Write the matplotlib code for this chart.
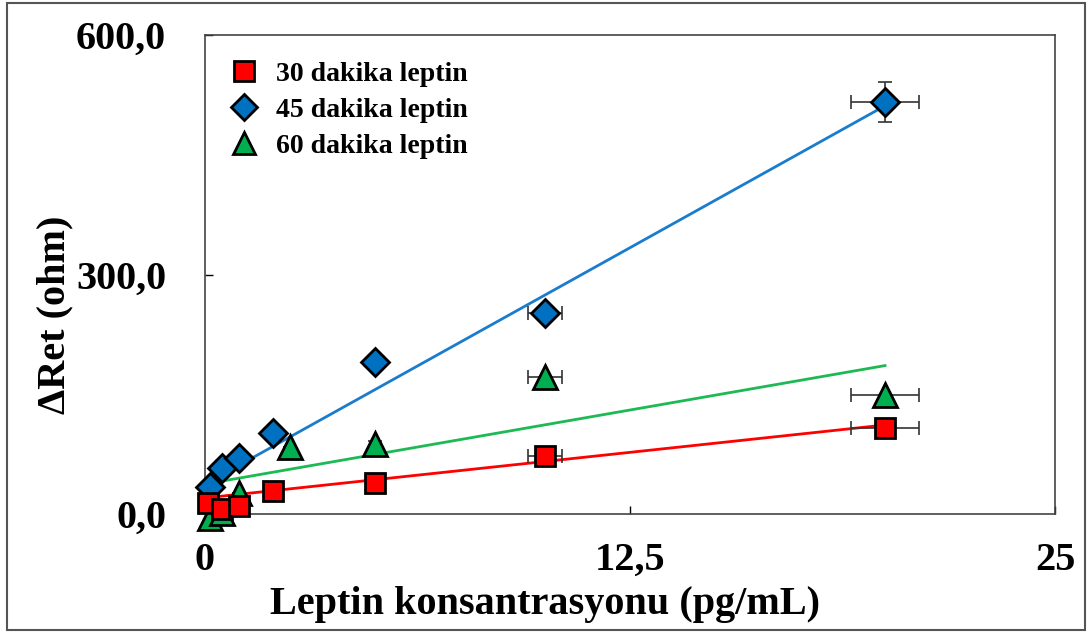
import matplotlib.pyplot as plt
import matplotlib.patches as mpatches
import numpy as np

# concentrations (pg/mL) and delta Ret (ohm)
x30 = [0.1, 0.5, 1.0, 2.0, 5.0, 10.0, 20.0]
y30 = [14, 6, 10, 29, 39, 73, 108]
x45 = [0.15, 0.5, 1.0, 2.0, 5.0, 10.0, 20.0]
y45 = [34, 58, 70, 101, 190, 252, 516]
x60 = [0.15, 0.5, 1.0, 2.5, 5.0, 10.0, 20.0]
y60 = [-5, 1, 26, 84, 88, 172, 149]

# horizontal / vertical error bars (only visible ones)
xerr30 = [0, 0, 0, 0, 0, 0.5, 1.0]
xerr45 = [0, 0, 0, 0, 0, 0.5, 1.0]
yerr45 = [0, 0, 0, 0, 0, 0, 25]
xerr60 = [0, 0, 0, 0, 0, 0.5, 1.0]
yerr60 = [0, 0, 0, 0, 4, 0, 0]

# trend lines: slope, intercept, x range
fit30 = (4.57, 20.1)
fit45 = (23.7, 37.3)
fit60 = (7.42, 37.5)
fit_x = [0.2, 20.0]

labels = ["30 dakika leptin", "45 dakika leptin", "60 dakika leptin"]

plt.rcParams["font.family"] = ["Liberation Serif", "DejaVu Serif"]
plt.rcParams["font.weight"] = "bold"

fig = plt.figure(figsize=(10.88, 6.35), dpi=100)
ax = fig.add_axes([205 / 1088, 1 - 514 / 635, 850 / 1088, 479 / 635])

fx = np.array(fit_x)
ax.plot(fx, fit45[0] * fx + fit45[1], color="#1a7ccc", lw=2, zorder=2)
ax.plot(fx, fit60[0] * fx + fit60[1], color="#1db954", lw=2, zorder=2)
ax.plot(fx, fit30[0] * fx + fit30[1], color="#ff0000", lw=2, zorder=2)

ekw = dict(ecolor="#333333", elinewidth=1.2, capsize=5, capthick=1.2, ls="none", zorder=3)
ax.errorbar(x30, y30, xerr=xerr30, **ekw)
ax.errorbar(x45, y45, xerr=xerr45, yerr=yerr45, **ekw)
ax.errorbar(x60, y60, xerr=xerr60, yerr=yerr60, **ekw)

mkw = dict(ls="none", markeredgecolor="black", markeredgewidth=2, clip_on=False, zorder=4)
ax.plot(x60, y60, marker="^", ms=17, color="#00b050", label=labels[2], **mkw)
ax.plot(x45, y45, marker="D", ms=14, color="#0070c0", label=labels[1], **mkw)
ax.plot(x30, y30, marker="s", ms=15, color="#ff0000", label=labels[0], **mkw)

ax.set_xlim(0, 25)
ax.set_ylim(0, 600)
ax.set_xticks([0, 12.5, 25])
ax.set_xticklabels(["0", "12,5", "25"])
ax.set_yticks([0, 300, 600])
ax.set_yticklabels(["0,0", "300,0", "600,0"])
ax.tick_params(direction="in", length=6, width=1, labelsize=29)
ax.tick_params(axis="x", pad=20)
ax.tick_params(axis="y", pad=28)
for s in ax.spines.values():
    s.set_linewidth(1.2)
    s.set_color("#444444")

ax.set_xlabel("Leptin konsantrasyonu (pg/mL)", fontsize=29, fontweight="bold")
ax.xaxis.set_label_coords(0.4, -(586 - 514) / 479)
ax.set_ylabel("\u0394Ret (ohm)", fontsize=29, fontweight="bold")
ax.yaxis.set_label_coords(-132 / 850, (514 - 315) / 479)

handles, labs = ax.get_legend_handles_labels()
order = [2, 1, 0]
leg = ax.legend([handles[i] for i in order], [labs[i] for i in order],
                loc="upper left", bbox_to_anchor=(-0.003, 0.997), frameon=False,
                prop={"size": 20, "weight": "bold"}, handletextpad=0.55,
                handlelength=1.2, labelspacing=0.38, markerscale=0.95, numpoints=1)

# outer frame of the picture
fig.patches.append(mpatches.Rectangle((7 / 1088, 1 - 630 / 635), 1078 / 1088, 627 / 635,
                                      transform=fig.transFigure, fill=False,
                                      edgecolor="#555555", lw=1.5))

fig.savefig("out.png", dpi=100)
